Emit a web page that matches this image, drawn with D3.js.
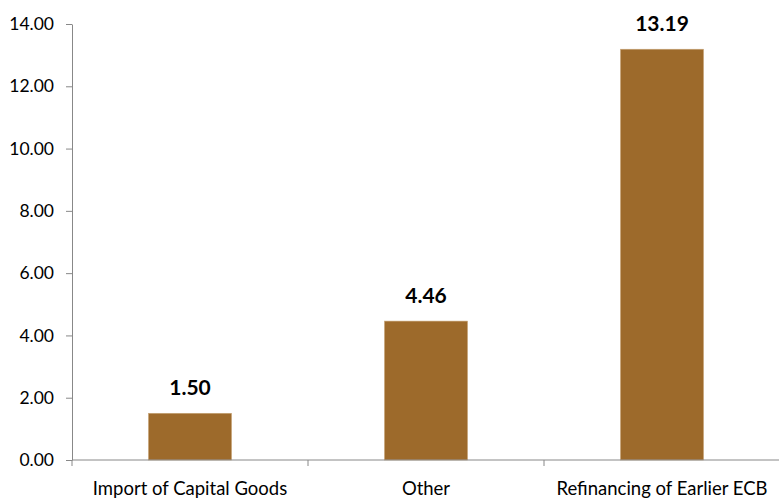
<!DOCTYPE html>
<meta charset="utf-8">
<title>Bar chart</title>
<style>
  body { margin:0; padding:0; background:#fff; }
  text { font-family: Lato, 'Open Sans', sans-serif; fill:#000; }
</style>
<body>
<div id="chart"></div>
<script src="https://cdn.jsdelivr.net/npm/d3@7"></script>
<script>

var categories = ['Import of Capital Goods', 'Other', 'Refinancing of Earlier ECB'],
    values = [1.50, 4.46, 13.19],
    yTicks = [0, 2, 4, 6, 8, 10, 12, 14];

var width = 779, height = 499,
    margin = {top: 24, right: -1, bottom: 39, left: 72};

var svg = d3.select("#chart").append("svg")
    .attr("width", width)
    .attr("height", height);

var x = d3.scaleBand()
    .domain(categories)
    .range([margin.left, width - margin.right])
    .paddingInner(0.648)
    .paddingOuter(0.324);

var y = d3.scaleLinear()
    .domain([0, 14])
    .range([height - margin.bottom, margin.top]);

//bars
svg.selectAll(".bar")
  .data(values)
  .enter().append("rect")
    .attr("class", "bar")
    .attr("x", function(d, i) { return x(categories[i]); })
    .attr("y", function(d) { return y(d); })
    .attr("width", x.bandwidth())
    .attr("height", function(d) { return y(0) - y(d); })
    .style("fill", "#9d6a2b")
    .style("stroke", "#c9a67a")
    .style("stroke-width", 0.6);

//value labels
svg.selectAll(".val")
  .data(values)
  .enter().append("text")
    .attr("class", "val")
    .attr("x", function(d, i) { return x(categories[i]) + x.bandwidth() / 2; })
    .attr("y", function(d) { return y(d) - 18; })
    .attr("text-anchor", "middle")
    .style("font-size", "21px")
    .style("font-weight", "700")
    .text(function(d) { return d.toFixed(2); });

//y axis
var yAxis = svg.append("g")
    .attr("transform", "translate(" + margin.left + ",0)")
    .call(d3.axisLeft(y).tickValues(yTicks).tickSize(6).tickSizeOuter(0).tickPadding(12)
      .tickFormat(function(d) { return d.toFixed(2); }));
yAxis.selectAll("text").style("font-size", "17.5px");

//x axis, ticks between the bands
var xAxis = svg.append("g")
    .attr("transform", "translate(0," + y(0) + ")");
xAxis.append("line")
    .attr("x1", margin.left).attr("x2", width)
    .attr("stroke", "#888");
var step = x.step();
[0, 1, 2, 3].forEach(function(k) {
  xAxis.append("line")
    .attr("x1", margin.left + step * k).attr("x2", margin.left + step * k)
    .attr("y1", 0).attr("y2", 6)
    .attr("stroke", "#888");
});
xAxis.selectAll(".cat")
  .data(categories)
  .enter().append("text")
    .attr("class", "cat")
    .attr("x", function(d) { return x(d) + x.bandwidth() / 2; })
    .attr("y", 35)
    .attr("text-anchor", "middle")
    .style("font-size", "18.5px")
    .text(function(d) { return d; });

yAxis.selectAll("path, line").attr("stroke", "#888");

</script>
</body>
</html>
